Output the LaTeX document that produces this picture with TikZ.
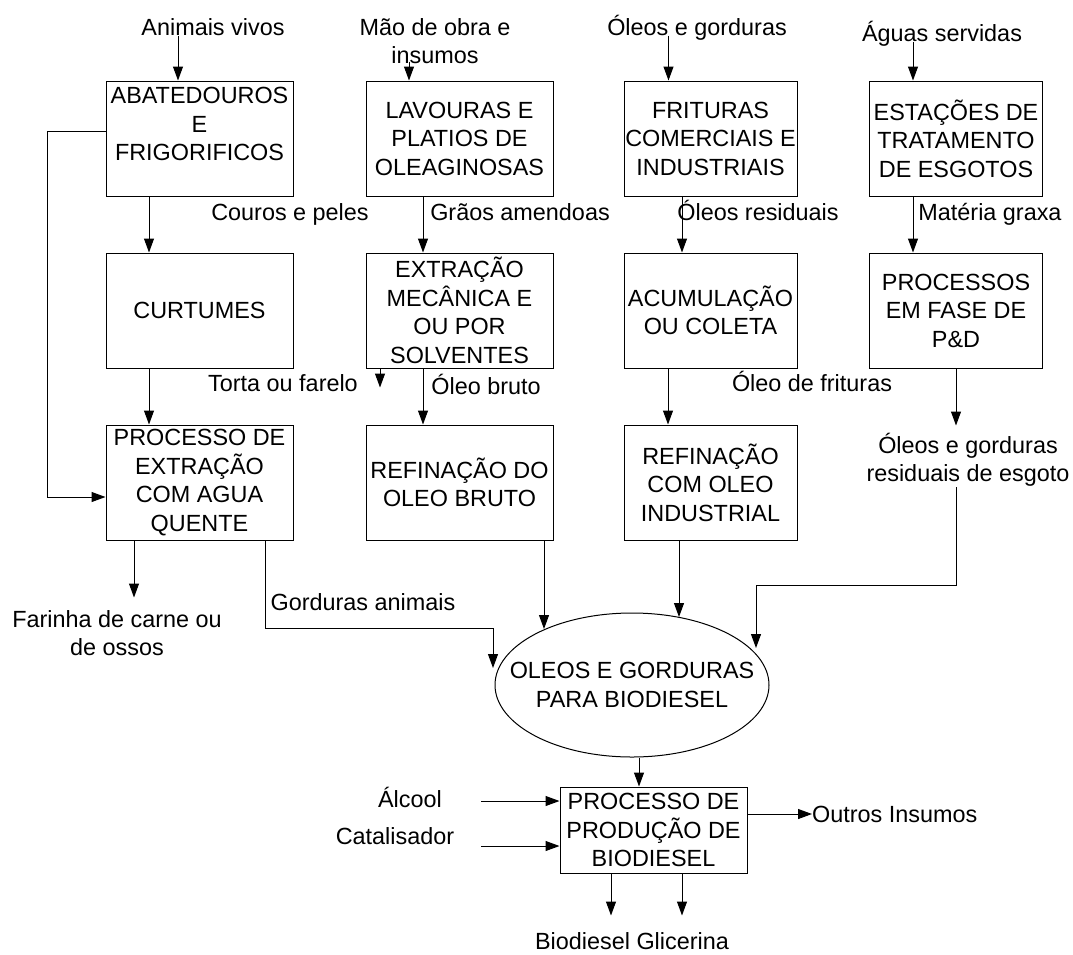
\documentclass[tikz,border=0pt]{standalone}
\usepackage{fontspec}
\setmainfont{Liberation Sans}
\usetikzlibrary{arrows.meta,shapes.geometric}
\begin{document}
\begin{tikzpicture}[x=1pt,y=-1pt,
  every node/.style={font=\fontsize{23.4pt}{28.5pt}\selectfont},
  box/.style={draw, line width=1pt, inner sep=0pt, align=center, minimum height=115pt},
  wide/.style={box, minimum width=187pt},
  narrow/.style={box, minimum width=173pt},
  lbl/.style={inner sep=0pt, text height=16.8pt, text depth=0pt},
  lbltwo/.style={inner sep=0pt, align=center},
  flow/.style={line width=1pt, -{Triangle[length=14pt,width=10pt]}}]
\useasboundingbox (0,0) rectangle (1073,954);

% first row of sources
\node[wide]   (abat) at (199.5,138.5) {ABATEDOUROS\\E\\FRIGORIFICOS\\\mbox{}};
\node[wide]   (lav)  at (459.5,138.5) {LAVOURAS E\\PLATIOS DE\\OLEAGINOSAS};
\node[narrow] (frit) at (710.5,138.5) {FRITURAS\\COMERCIAIS E\\INDUSTRIAIS};
\node[narrow] (est)  at (956,138.5)   {ESTAÇÕES DE\\TRATAMENTO\\DE ESGOTOS};

% second row
\node[wide]   (curt) at (199.5,310.5) {CURTUMES};
\node[wide]   (extr) at (459.5,310.5) {EXTRAÇÃO\\MECÂNICA E\\OU POR\\SOLVENTES};
\node[narrow] (acum) at (710.5,310.5) {ACUMULAÇÃO\\OU COLETA};
\node[narrow] (proc) at (956,310.5)   {PROCESSOS\\EM FASE DE\\P\&D};

% third row
\node[wide]   (hot)  at (199.5,482.5) {PROCESSO DE\\EXTRAÇÃO\\COM AGUA\\QUENTE};
\node[wide]   (refb) at (459.5,482.5) {REFINAÇÃO DO\\OLEO BRUTO};
\node[narrow] (refi) at (710.5,482.5) {REFINAÇÃO\\COM OLEO\\INDUSTRIAL};

% collector and final process
\node[draw, ellipse, line width=1pt, minimum width=274pt, minimum height=144pt, inner sep=0pt] (oleos) at (632,685) {};
\node[lbltwo] (oleostxt) at (oleos) {OLEOS E GORDURAS\\PARA BIODIESEL};
\node[box, minimum width=187pt, minimum height=86pt] (prod) at (653.5,830) {PROCESSO DE\\PRODUÇÃO DE\\BIODIESEL};

% flow labels
\node[lbl] (animais)  at (213,27)  {Animais vivos};
\node[lbltwo] (mao)   at (435,41)  {Mão de obra e\\insumos};
\node[lbl] (oleosg)   at (697,27)  {Óleos e gorduras};
\node[lbl] (aguas)    at (942,33)  {Águas servidas};
\node[lbl] (couros)   at (290,212) {Couros e peles};
\node[lbl] (graos)    at (520,212) {Grãos amendoas};
\node[lbl] (resid)    at (758,212) {Óleos residuais};
\node[lbl] (materia)  at (990,212) {Matéria graxa};
\node[lbl] (torta)    at (283,383) {Torta ou farelo};
\node[lbl] (bruto)    at (486,386) {Óleo bruto};
\node[lbl] (frituras) at (812,383) {Óleo de frituras};
\node[lbltwo] (esg)   at (968,460) {Óleos e gorduras\\residuais de esgoto};
\node[lbltwo] (farinha) at (117,633) {Farinha de carne ou\\de ossos};
\node[lbl] (gord)     at (363,602) {Gorduras animais};
\node[lbl] (alcool)   at (410,799) {Álcool};
\node[lbl] (catal)    at (395,836) {Catalisador};
\node[lbl, anchor=west] (outros) at (812,814) {Outros Insumos};
\node[lbl] (biog)     at (632,941) {Biodiesel Glicerina};

% free ends of connectors
\coordinate (inA) at (493,668);
\coordinate (kneeA) at (493,628);
\coordinate (inB) at (544,629);
\coordinate (inC) at (679,617);
\coordinate (inD) at (756,648);
\coordinate (kneeD) at (756,585);
\coordinate (alc) at (481,801);
\coordinate (cat) at (481,846);

% inputs into the first row
\draw[flow] ([xshift=-35pt]animais.south) -- ([xshift=-35pt]animais.south |- abat.north);
\draw[flow] ([xshift=-50.5pt,yshift=19pt]lav.north) -- ([xshift=-50.5pt]lav.north);
\draw[flow] ([xshift=-28.5pt]oleosg.south) -- ([xshift=-28.5pt]oleosg.south |- frit.north);
\draw[flow] ([xshift=-29pt]aguas.south) -- ([xshift=-29pt]aguas.south |- est.north);

% first row to second row
\draw[flow] ([xshift=-50.5pt]abat.south) -- ([xshift=-50.5pt]curt.north);
\draw[flow] ([xshift=-36.5pt]lav.south) -- ([xshift=-36.5pt]extr.north);
\draw[flow] ([xshift=-28.5pt]frit.south) -- ([xshift=-28.5pt]acum.north);
\draw[flow] ([xshift=-43pt]est.south) -- ([xshift=-43pt]proc.north);

% bypass from slaughterhouses to hot water extraction
\draw[flow] ([yshift=7.5pt]abat.west) -- ++(-58,0) |- ([yshift=-14.5pt]hot.west);

% second row to third row
\draw[flow] ([xshift=-50.5pt]curt.south) -- ([xshift=-50.5pt]hot.north);
\draw[flow] ([xshift=-79.5pt]extr.south) -- ++(0,19);
\draw[flow] ([xshift=-36.5pt]extr.south) -- ([xshift=-36.5pt]refb.north);
\draw[flow] ([xshift=-42.5pt]acum.south) -- ([xshift=-42.5pt]refi.north);
\draw[flow] (proc.south) -- ++(0,57);

% into the collector
\draw[flow] ([xshift=-65.5pt]hot.south) -- ++(0,57);
\draw[flow] ([xshift=65.5pt]hot.south) |- (kneeA) -- (inA);
\draw[flow] (refb.south -| inB) -- (inB);
\draw[flow] (refi.south -| inC) -- (inC);
\draw[flow] (esg.south -| proc.south) |- (kneeD) -- (inD);

% final process
\draw[flow] ([xshift=-14.5pt]prod.north |- oleos.south) -- ([xshift=-14.5pt]prod.north);
\draw[flow] (alc) -- (alc -| prod.west);
\draw[flow] (cat) -- (cat -| prod.west);
\draw[flow] ([yshift=16pt]prod.east) -- ([yshift=16pt]prod.east -| outros.west);
\draw[flow] ([xshift=-42.5pt]prod.south) -- ++(0,42);
\draw[flow] ([xshift=28.5pt]prod.south) -- ++(0,42);
\end{tikzpicture}
\end{document}
